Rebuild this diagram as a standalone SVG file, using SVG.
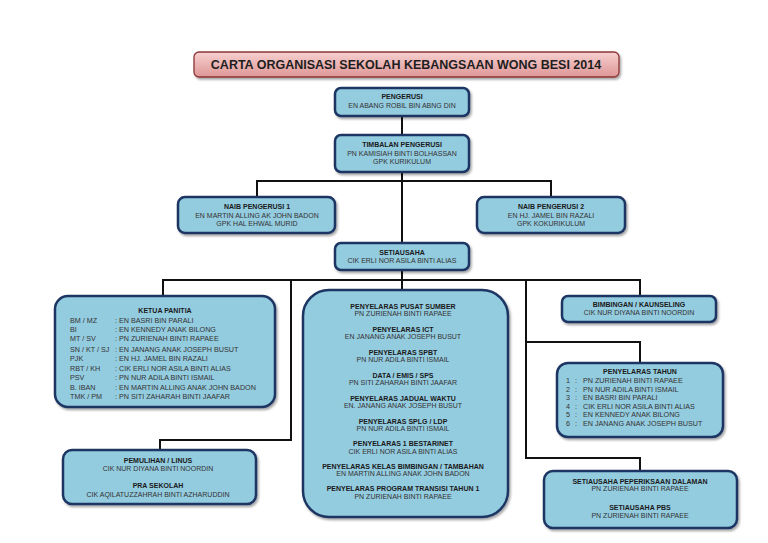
<svg xmlns="http://www.w3.org/2000/svg" width="768" height="543" viewBox="0 0 768 543">
<defs>
<linearGradient id="tg" x1="0" y1="0" x2="0" y2="1">
<stop offset="0" stop-color="#f7d0d0"/>
<stop offset="1" stop-color="#de9696"/>
</linearGradient>
<filter id="sh" x="-10%" y="-10%" width="130%" height="140%">
<feDropShadow dx="1.5" dy="2" stdDeviation="1.2" flood-color="#000" flood-opacity="0.35"/>
</filter>
</defs>
<style>
.box{fill:#93cbdf;stroke:#1b3562;stroke-width:2.5;filter:url(#sh)}
.t{font-family:"Liberation Sans",Arial,sans-serif;font-size:7px;font-weight:bold;fill:#1a1a1a;text-anchor:middle}
.n{font-family:"Liberation Sans",Arial,sans-serif;font-size:7px;fill:#333;text-anchor:middle}
.l{font-family:"Liberation Sans",Arial,sans-serif;font-size:7.2px;fill:#333}
.c{fill:none;stroke:#111;stroke-width:2}
</style>
<rect width="768" height="543" fill="#fff"/>
<g id="connectors">
<path class="c" d="M402,116 V135"/>
<path class="c" d="M402,172 V243"/>
<path class="c" d="M257,197 V181 H551 V197"/>
<path class="c" d="M402,270 V290"/>
<path class="c" d="M163,296 V280 H640 V296"/>
<path class="c" d="M291,280 V440 H160 V450"/>
<path class="c" d="M526,280 V458 H640 V471"/>
<path class="c" d="M526,342 H640 V363"/>
</g>
<g id="title">
<rect x="194" y="52" width="425" height="25" rx="5" fill="url(#tg)" stroke="#8c3535" stroke-width="1.3" filter="url(#sh)"/>
<text x="406" y="69" font-family="'Liberation Sans',Arial,sans-serif" font-size="12.5" font-weight="bold" fill="#1e1e1e" text-anchor="middle">CARTA ORGANISASI SEKOLAH KEBANGSAAN WONG BESI 2014</text>
</g>
<g id="pengerusi">
<rect class="box" x="335" y="88" width="134" height="28" rx="6"/>
<text class="t" x="402" y="99">PENGERUSI</text>
<text class="n" x="402" y="107.5">EN ABANG ROBIL BIN ABNG DIN</text>
</g>
<g id="timbalan">
<rect class="box" x="335" y="135" width="134" height="37" rx="6"/>
<text class="t" x="402" y="147">TIMBALAN PENGERUSI</text>
<text class="n" x="402" y="155.5">PN KAMISIAH BINTI BOLHASSAN</text>
<text class="n" x="402" y="164">GPK KURIKULUM</text>
</g>
<g id="naib1">
<rect class="box" x="178" y="197" width="157" height="36" rx="7"/>
<text class="t" x="257" y="209">NAIB PENGERUSI 1</text>
<text class="n" x="257" y="217.5">EN MARTIN ALLING AK JOHN BADON</text>
<text class="n" x="257" y="226">GPK HAL EHWAL MURID</text>
</g>
<g id="naib2">
<rect class="box" x="477" y="197" width="148" height="36" rx="7"/>
<text class="t" x="551" y="209">NAIB PENGERUSI 2</text>
<text class="n" x="551" y="217.5">EN HJ. JAMEL BIN RAZALI</text>
<text class="n" x="551" y="226">GPK KOKURIKULUM</text>
</g>
<g id="setiausaha">
<rect class="box" x="335" y="243" width="134" height="27" rx="6"/>
<text class="t" x="402" y="254.5">SETIAUSAHA</text>
<text class="n" x="402" y="263">CIK ERLI NOR ASILA BINTI ALIAS</text>
</g>
<g id="ketua-panitia">
<rect class="box" x="55" y="296" width="220" height="111" rx="13"/>
<text class="t" x="165" y="312.5">KETUA PANITIA</text>
<text class="l" x="70" y="323">BM / MZ</text><text class="l" x="115" y="323">: EN BASRI BIN PARALI</text>
<text class="l" x="70" y="332">BI</text><text class="l" x="115" y="332">: EN KENNEDY ANAK BILONG</text>
<text class="l" x="70" y="341">MT / SV</text><text class="l" x="115" y="341">: PN ZURIENAH BINTI RAPAEE</text>
<text class="l" x="70" y="351.5">SN / KT / SJ</text><text class="l" x="115" y="351.5">: EN JANANG ANAK JOSEPH BUSUT</text>
<text class="l" x="70" y="360.5">PJK</text><text class="l" x="115" y="360.5">: EN HJ. JAMEL BIN RAZALI</text>
<text class="l" x="70" y="370.5">RBT / KH</text><text class="l" x="115" y="370.5">: CIK ERLI NOR ASILA BINTI ALIAS</text>
<text class="l" x="70" y="379.5">PSV</text><text class="l" x="115" y="379.5">: PN NUR ADILA BINTI ISMAIL</text>
<text class="l" x="70" y="389.5">B. IBAN</text><text class="l" x="115" y="389.5">: EN MARTIN ALLING ANAK JOHN BADON</text>
<text class="l" x="70" y="398.5">TMK / PM</text><text class="l" x="115" y="398.5">: PN SITI ZAHARAH BINTI JAAFAR</text>
</g>
<g id="penyelaras">
<rect class="box" x="303" y="290" width="205" height="227" rx="26"/>
<text class="t" x="403" y="308.5">PENYELARAS PUSAT SUMBER</text>
<text class="n" x="403" y="316">PN ZURIENAH BINTI RAPAEE</text>
<text class="t" x="403" y="331.5">PENYELARAS ICT</text>
<text class="n" x="403" y="339">EN JANANG ANAK JOSEPH BUSUT</text>
<text class="t" x="403" y="354.5">PENYELARAS SPBT</text>
<text class="n" x="403" y="362">PN NUR ADILA BINTI ISMAIL</text>
<text class="t" x="403" y="377.5">DATA / EMIS / SPS</text>
<text class="n" x="403" y="385">PN SITI ZAHARAH BINTI JAAFAR</text>
<text class="t" x="403" y="400.5">PENYELARAS JADUAL WAKTU</text>
<text class="n" x="403" y="408">EN. JANANG ANAK JOSEPH BUSUT</text>
<text class="t" x="403" y="423.5">PENYELARAS SPLG / LDP</text>
<text class="n" x="403" y="431">PN NUR ADILA BINTI ISMAIL</text>
<text class="t" x="403" y="446">PENYELARAS 1 BESTARINET</text>
<text class="n" x="403" y="453.5">CIK ERLI NOR ASILA BINTI ALIAS</text>
<text class="t" x="403" y="468.5">PENYELARAS KELAS BIMBINGAN / TAMBAHAN</text>
<text class="n" x="403" y="476">EN MARTIN ALLING ANAK JOHN BADON</text>
<text class="t" x="403" y="491">PENYELARAS PROGRAM TRANSISI TAHUN 1</text>
<text class="n" x="403" y="498.5">PN ZURIENAH BINTI RAPAEE</text>
</g>
<g id="bimbingan">
<rect class="box" x="562" y="296" width="154" height="26" rx="6"/>
<text class="t" x="639" y="307">BIMBINGAN / KAUNSELING</text>
<text class="n" x="639" y="315">CIK NUR DIYANA BINTI NOORDIN</text>
</g>
<g id="penyelaras-tahun">
<rect class="box" x="557" y="363" width="166" height="74" rx="11"/>
<text class="t" x="640" y="374">PENYELARAS TAHUN</text>
<text class="l" x="566" y="382.5">1</text><text class="l" x="575" y="382.5">:</text><text class="l" x="583" y="382.5">PN ZURIENAH BINTI RAPAEE</text>
<text class="l" x="566" y="391.5">2</text><text class="l" x="575" y="391.5">:</text><text class="l" x="583" y="391.5">PN NUR ADILA BINTI ISMAIL</text>
<text class="l" x="566" y="400">3</text><text class="l" x="575" y="400">:</text><text class="l" x="583" y="400">EN BASRI BIN PARALI</text>
<text class="l" x="566" y="408.5">4</text><text class="l" x="575" y="408.5">:</text><text class="l" x="583" y="408.5">CIK ERLI NOR ASILA BINTI ALIAS</text>
<text class="l" x="566" y="417">5</text><text class="l" x="575" y="417">:</text><text class="l" x="583" y="417">EN KENNEDY ANAK BILONG</text>
<text class="l" x="566" y="425.5">6</text><text class="l" x="575" y="425.5">:</text><text class="l" x="583" y="425.5">EN JANANG ANAK JOSEPH BUSUT</text>
</g>
<g id="pemulihan">
<rect class="box" x="63" y="450" width="193" height="54" rx="9"/>
<text class="t" x="158" y="462.5">PEMULIHAN / LINUS</text>
<text class="n" x="158" y="470.5">CIK NUR DIYANA BINTI NOORDIN</text>
<text class="t" x="158" y="488">PRA SEKOLAH</text>
<text class="n" x="158" y="496.5">CIK AQILATUZZAHRAH BINTI AZHARUDDIN</text>
</g>
<g id="setiausaha-peperiksaan">
<rect class="box" x="544" y="471" width="193" height="57" rx="9"/>
<text class="t" x="640" y="484">SETIAUSAHA PEPERIKSAAN DALAMAN</text>
<text class="n" x="640" y="490.5">PN ZURIENAH BINTI RAPAEE</text>
<text class="t" x="640" y="510">SETIAUSAHA PBS</text>
<text class="n" x="640" y="517.5">PN ZURIENAH BINTI RAPAEE</text>
</g>
</svg>
